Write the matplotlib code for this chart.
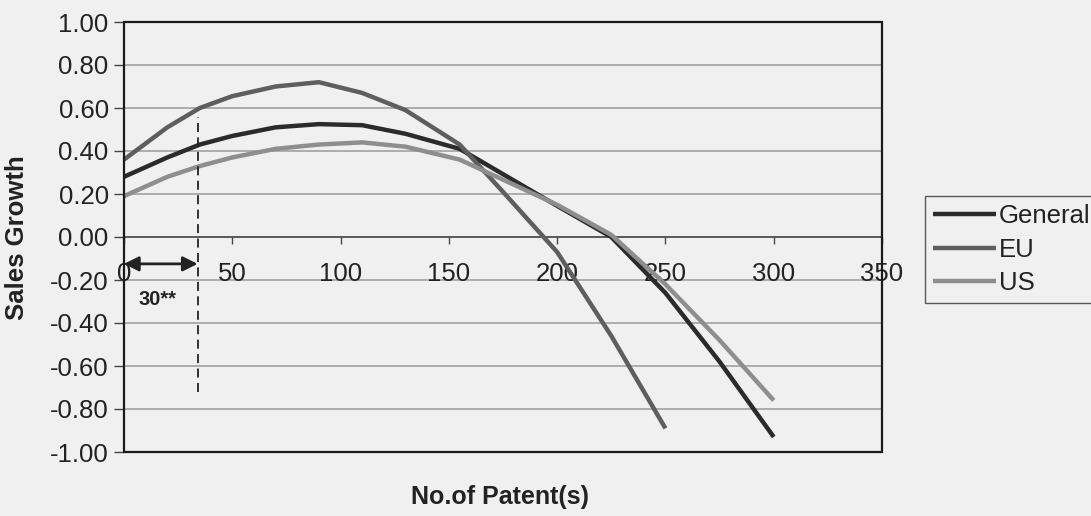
import matplotlib
matplotlib.use("Agg")
import matplotlib.pyplot as plt
from matplotlib.patches import Rectangle

plt.rcParams['font.family'] = ['Liberation Sans', 'DejaVu Sans']

# ---- data ----
x_general = [0, 20, 35, 50, 70, 90, 110, 130, 155, 200, 225, 250, 275, 300]
y_general = [0.28, 0.37, 0.43, 0.47, 0.51, 0.525, 0.52, 0.48, 0.41, 0.145, 0.0, -0.26, -0.58, -0.93]

x_eu = [0, 20, 35, 50, 70, 90, 110, 130, 155, 175, 200, 225, 250]
y_eu = [0.36, 0.51, 0.60, 0.655, 0.70, 0.72, 0.67, 0.59, 0.43, 0.21, -0.07, -0.46, -0.89]

x_us = [0, 20, 35, 50, 70, 90, 110, 130, 155, 200, 225, 250, 275, 300]
y_us = [0.19, 0.28, 0.33, 0.37, 0.41, 0.43, 0.44, 0.42, 0.36, 0.15, 0.01, -0.22, -0.48, -0.76]

series_names = ["General", "EU", "US"]
x_ticks = [0, 50, 100, 150, 200, 250, 300, 350]
y_ticks = [1.0, 0.8, 0.6, 0.4, 0.2, 0.0, -0.2, -0.4, -0.6, -0.8, -1.0]

threshold_x = 34
threshold_label = "30**"
dashed_top = 0.56
dashed_bottom = -0.72
arrow_y = -0.125
label_y = -0.29

# ---- style ----
bg = '#f0f0f0'
colors = ['#2b2b2b', '#5e5e5e', '#8e8e8e']
FS = 18.5
W, H = 1091, 516
fig = plt.figure(figsize=(W / 100, H / 100), dpi=100, facecolor=bg)
ax = fig.add_axes([124 / W, 1 - 452 / H, (882 - 124) / W, (452 - 22) / H])
ax.set_facecolor(bg)

ax.set_xlim(0, 350)
ax.set_ylim(-1, 1)

for yt in y_ticks:
    ax.axhline(yt, color='#9a9a9a', lw=1.1, zorder=1)

for xs, ys, name, c in zip([x_general, x_eu, x_us], [y_general, y_eu, y_us], series_names, colors):
    ax.plot(xs, ys, color=c, lw=3.2, label=name, zorder=3, solid_capstyle='butt',
            solid_joinstyle='round')

# axes frame
for s in ['top', 'right', 'left']:
    ax.spines[s].set_visible(False)
ax.spines['bottom'].set_position(('data', 0))
ax.spines['bottom'].set_color('#444444')
ax.spines['bottom'].set_linewidth(1.1)
ax.add_patch(Rectangle((0, 0), 1, 1, transform=ax.transAxes, fill=False,
                       edgecolor='#1a1a1a', lw=1.6, zorder=4, clip_on=False))

ax.set_xticks(x_ticks)
ax.set_xticklabels([str(v) for v in x_ticks])
ax.set_yticks(y_ticks)
ax.set_yticklabels([f"{v:.2f}" for v in y_ticks])
ax.tick_params(axis='x', direction='out', length=5, width=1, color='#444444',
               labelsize=FS, pad=13, labelcolor='#222222')
ax.tick_params(axis='y', direction='out', length=7, width=1, color='#444444',
               labelsize=FS, pad=4, labelcolor='#222222')

# threshold annotation
ax.plot([threshold_x, threshold_x], [dashed_bottom, dashed_top], color='#222222',
        lw=1.3, ls=(0, (5, 3)), zorder=5)
ax.annotate('', xy=(0, arrow_y), xytext=(threshold_x, arrow_y),
            arrowprops=dict(arrowstyle='<|-|>', color='#222222', lw=2,
                            mutation_scale=22, shrinkA=0, shrinkB=0), zorder=6)
ax.text(threshold_x / 2 - 1.5, label_y, threshold_label, fontsize=14.5,
        fontweight='bold', ha='center', va='center', color='#222222')

fig.text(17 / W, 1 - 238 / H, "Sales Growth", rotation=90, fontsize=FS,
         fontweight='bold', ha='center', va='center', color='#222222')
fig.text(500 / W, 1 - 497 / H, "No.of Patent(s)", fontsize=18,
         fontweight='bold', ha='center', va='center', color='#222222')

leg = ax.legend(loc='lower left', bbox_to_anchor=(925 / W, 1 - 303 / H),
                bbox_transform=fig.transFigure, borderaxespad=0, fontsize=FS,
                handlelength=2.45, handletextpad=0.12, labelspacing=0.38,
                borderpad=0.3, frameon=True, fancybox=False)
leg.get_frame().set_edgecolor('#333333')
leg.get_frame().set_facecolor(bg)
leg.get_frame().set_linewidth(1.0)
for t in leg.get_texts():
    t.set_color('#222222')

fig.savefig('out.png', dpi=100, facecolor=bg)
